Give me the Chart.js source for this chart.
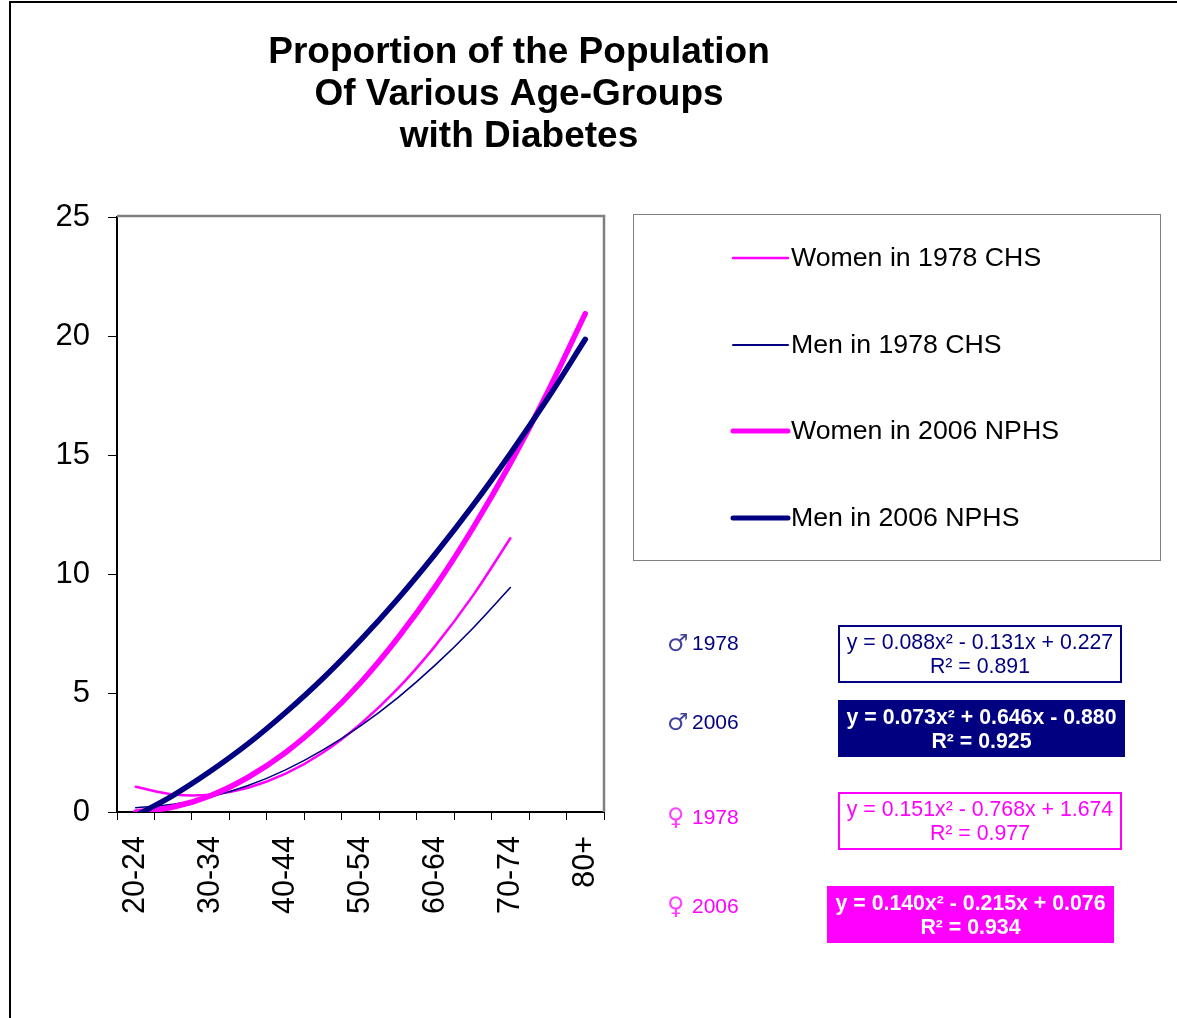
<!DOCTYPE html>
<html>
<head>
<meta charset="utf-8">
<script src="https://cdn.jsdelivr.net/npm/chart.js@4.4.1/dist/chart.umd.min.js"></script>
<style>
  html, body { margin: 0; padding: 0; background: #fff; }
  #wrap { position: relative; width: 1177px; height: 1018px; }
  canvas { display: block; }
</style>
</head>
<body>
<div id="wrap"><canvas id="c" width="1177" height="1018"></canvas></div>
<script>
// ---- data ----
const categories = ['20-24','25-29','30-34','35-39','40-44','45-49','50-54','55-59','60-64','65-69','70-74','75-79','80+'];
const women1978 = [1.06, 0.74, 0.73, 1.02, 1.61, 2.50, 3.70, 5.19, 6.99, 9.09, 11.50];
const men1978   = [0.18, 0.32, 0.63, 1.11, 1.77, 2.61, 3.62, 4.81, 6.18, 7.72, 9.43];
const women2006 = [0.00, 0.21, 0.69, 1.46, 2.50, 3.83, 5.43, 7.32, 9.48, 11.93, 14.65, 17.66, 20.94];
const men2006   = [-0.16, 0.70, 1.72, 2.87, 4.18, 5.62, 7.22, 8.96, 10.85, 12.88, 15.06, 17.38, 19.86];
const seriesNames = ['Women in 1978 CHS', 'Men in 1978 CHS', 'Women in 2006 NPHS', 'Men in 2006 NPHS'];
const yTicks = [0, 5, 10, 15, 20, 25];
const titleLines = ['Proportion of the Population', 'Of Various Age-Groups', 'with Diabetes'];
const eqSymbols = ['\u2642', '\u2642', '\u2640', '\u2640'];
const eqYears = ['1978', '2006', '1978', '2006'];
const eqLines = [
  ['y = 0.088x\u00B2 - 0.131x + 0.227', 'R\u00B2 = 0.891'],
  ['y = 0.073x\u00B2 + 0.646x - 0.880', 'R\u00B2 = 0.925'],
  ['y = 0.151x\u00B2 - 0.768x + 1.674', 'R\u00B2 = 0.977'],
  ['y = 0.140x\u00B2 - 0.215x + 0.076', 'R\u00B2 = 0.934']
];

const MAGENTA = '#FF00FF';
const NAVY = '#000080';
const FONT = '"Liberation Sans", Arial, Helvetica, sans-serif';

const decorPlugin = {
  id: 'decor',
  beforeDraw(chart) {
    const ctx = chart.ctx;
    ctx.save();
    ctx.fillStyle = '#fff';
    ctx.fillRect(0, 0, chart.width, chart.height);
    ctx.restore();
  },
  afterDatasetsDraw(chart) {
    const ctx = chart.ctx;
    const a = chart.chartArea;
    ctx.save();
    ctx.strokeStyle = '#808080';
    ctx.lineWidth = 2.5;
    ctx.beginPath();
    ctx.moveTo(a.left, a.top - 1);
    ctx.lineTo(a.right, a.top - 1);
    ctx.lineTo(a.right, a.bottom);
    ctx.stroke();
    ctx.restore();
  },
  afterDraw(chart) {
    const ctx = chart.ctx;
    ctx.save();
    // outer frame
    ctx.strokeStyle = '#000';
    ctx.lineWidth = 2;
    ctx.beginPath();
    ctx.moveTo(10, 1100);
    ctx.lineTo(10, 2);
    ctx.lineTo(1200, 2);
    ctx.stroke();

    // title
    ctx.fillStyle = '#000';
    ctx.font = 'bold 37px ' + FONT;
    ctx.textAlign = 'center';
    ctx.textBaseline = 'middle';
    const ty = [53, 95, 137];
    titleLines.forEach((t, i) => ctx.fillText(t, 519, ty[i]));

    // legend box
    ctx.strokeStyle = '#808080';
    ctx.lineWidth = 1;
    ctx.strokeRect(633.5, 214.5, 527, 346);
    const ly = [258, 345, 431, 518];
    ctx.textAlign = 'left';
    ctx.font = '26.7px ' + FONT;
    chart.data.datasets.forEach((ds, i) => {
      ctx.strokeStyle = ds.borderColor;
      ctx.lineWidth = ds.legendWidth;
      ctx.lineCap = 'round';
      ctx.beginPath();
      ctx.moveTo(733, ly[i]);
      ctx.lineTo(788, ly[i]);
      ctx.stroke();
      ctx.fillStyle = '#000';
      ctx.fillText(ds.label, 791, ly[i] + 1);
    });

    // equation group labels and boxes
    const boxes = [
      {x: 838, y: 625, w: 284, h: 58, fill: '#fff', stroke: NAVY, text: NAVY, bold: false, lab: NAVY, ly: 644},
      {x: 838, y: 700, w: 287, h: 57, fill: NAVY, stroke: NAVY, text: '#fff', bold: true, lab: NAVY, ly: 723},
      {x: 838, y: 792, w: 284, h: 58, fill: '#fff', stroke: MAGENTA, text: MAGENTA, bold: false, lab: MAGENTA, ly: 818},
      {x: 827, y: 886, w: 287, h: 57, fill: MAGENTA, stroke: MAGENTA, text: '#fff', bold: true, lab: MAGENTA, ly: 907}
    ];
    boxes.forEach((b, i) => {
      ctx.fillStyle = b.lab;
      ctx.textAlign = 'left';
      ctx.font = '24px "DejaVu Sans", sans-serif';
      ctx.globalAlpha = 0.75;
      ctx.fillText(eqSymbols[i], 667, b.ly + 1);
      ctx.globalAlpha = 1;
      ctx.font = '21px ' + FONT;
      ctx.fillText(eqYears[i], 692, b.ly);

      ctx.fillStyle = b.fill;
      ctx.fillRect(b.x, b.y, b.w, b.h);
      if (b.fill === '#fff') {
        ctx.strokeStyle = b.stroke;
        ctx.lineWidth = 2;
        ctx.strokeRect(b.x + 1, b.y + 1, b.w - 2, b.h - 2);
      }
      ctx.fillStyle = b.text;
      ctx.font = (b.bold ? 'bold ' : '') + '21.3px ' + FONT;
      ctx.textAlign = 'center';
      const cx = b.x + b.w / 2;
      ctx.fillText(eqLines[i][0], cx, b.y + 18);
      ctx.fillText(eqLines[i][1], cx, b.y + 42);
    });
    ctx.restore();
  }
};

const lineDs = (label, data, color, width, legendWidth, order) => ({
  label, data,
  borderColor: color,
  backgroundColor: color,
  borderWidth: width,
  legendWidth,
  pointRadius: 0,
  pointHoverRadius: 0,
  fill: false,
  tension: 0.35,
  borderCapStyle: 'round',
  borderJoinStyle: 'round',
  clip: {left: 20, right: 20, top: 20, bottom: 0},
  order
});

new Chart(document.getElementById('c'), {
  type: 'line',
  data: {
    labels: categories,
    datasets: [
      lineDs(seriesNames[0], women1978, MAGENTA, 2.5, 2.5, 3),
      lineDs(seriesNames[1], men1978, NAVY, 1.6, 2, 2),
      lineDs(seriesNames[2], women2006, MAGENTA, 5.5, 5, 1),
      lineDs(seriesNames[3], men2006, NAVY, 5.5, 5, 0)
    ]
  },
  options: {
    responsive: false,
    animation: false,
    events: [],
    layout: { padding: { left: 0, top: 217, right: 1177 - 604, bottom: 0 } },
    plugins: {
      legend: { display: false },
      title: { display: false },
      tooltip: { enabled: false }
    },
    scales: {
      x: {
        type: 'category',
        offset: true,
        afterFit: (s) => { s.height = 1018 - 812; },
        border: { display: true, color: '#000', width: 2 },
        grid: { display: true, drawOnChartArea: false, offset: true, tickLength: 8, color: '#000', lineWidth: 1 },
        ticks: {
          autoSkip: false,
          minRotation: 90,
          maxRotation: 90,
          padding: 16,
          color: '#000',
          font: { family: FONT, size: 30.5 },
          callback: function(v, i) { return i % 2 === 0 ? this.getLabelForValue(v) : ''; }
        }
      },
      y: {
        min: 0,
        max: 25,
        afterFit: (s) => { s.width = 117; },
        afterBuildTicks: (s) => { s.ticks = yTicks.map(v => ({ value: v })); },
        border: { display: true, color: '#000', width: 2 },
        grid: { display: true, drawOnChartArea: false, tickLength: 9, color: '#000', lineWidth: 1 },
        ticks: {
          padding: 18,
          color: '#000',
          font: { family: FONT, size: 31 }
        }
      }
    }
  },
  plugins: [decorPlugin]
});
</script>
</body>
</html>
